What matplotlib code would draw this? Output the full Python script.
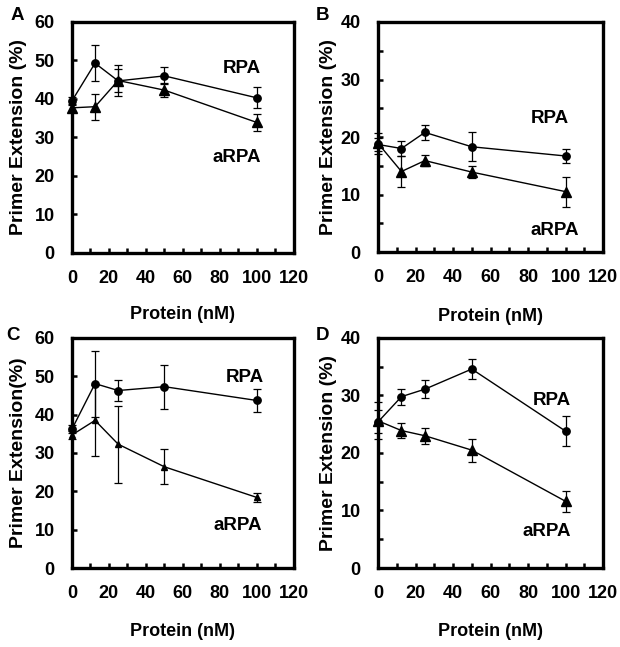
import matplotlib
matplotlib.use("Agg")
import matplotlib.pyplot as plt
from matplotlib.ticker import MultipleLocator

plt.rcParams['font.family'] = ['Liberation Sans', 'DejaVu Sans']
plt.rcParams['font.weight'] = 'bold'

protein = [0, 12.5, 25, 50, 100]

A_rpa = [39.5, 49.3, 44.7, 46.0, 40.3]
A_rpa_err = [1.0, 4.6, 4.0, 2.2, 2.7]
A_arpa = [37.7, 38.0, 44.8, 42.3, 33.9]
A_arpa_err = [1.0, 3.4, 3.0, 1.8, 2.1]

B_rpa = [18.7, 18.0, 20.8, 18.3, 16.7]
B_rpa_err = [1.2, 1.3, 1.3, 2.5, 1.2]
B_arpa = [18.9, 14.0, 15.9, 13.9, 10.5]
B_arpa_err = [1.8, 2.7, 1.0, 1.0, 2.6]

C_rpa = [36.2, 48.1, 46.3, 47.3, 43.7]
C_rpa_err = [1.0, 8.6, 2.7, 5.7, 3.0]
C_arpa = [34.7, 38.5, 32.3, 26.4, 18.4]
C_arpa_err = [1.0, 9.2, 10.0, 4.6, 1.2]

D_rpa = [25.4, 29.8, 31.1, 34.6, 23.8]
D_rpa_err = [2.0, 1.4, 1.6, 1.8, 2.6]
D_arpa = [25.6, 23.9, 23.0, 20.5, 11.6]
D_arpa_err = [3.2, 1.3, 1.4, 2.0, 1.8]

panels = [
    dict(letter='A', rect=[0.116, 0.609, 0.358, 0.357], ymax=60, ystep=10, yminor=10,
         rpa=A_rpa, rpa_err=A_rpa_err, arpa=A_arpa, arpa_err=A_arpa_err,
         ylabel='Primer Extension (%)', rpa_pos=(92, 48), arpa_pos=(89, 24.7),
         tri=6.7, letter_pos=(17, 15), lx=-0.203, xly=-0.268),
    dict(letter='B', rect=[0.6097, 0.6105, 0.363, 0.3555], ymax=40, ystep=10, yminor=5,
         rpa=B_rpa, rpa_err=B_rpa_err, arpa=B_arpa, arpa_err=B_arpa_err,
         ylabel='Primer Extension (%)', rpa_pos=(91.7, 23.3), arpa_pos=(94.4, 3.8),
         tri=6.7, letter_pos=(322, 15), lx=-0.182, xly=-0.28),
    dict(letter='C', rect=[0.116, 0.1221, 0.358, 0.3555], ymax=60, ystep=10, yminor=10,
         rpa=C_rpa, rpa_err=C_rpa_err, arpa=C_arpa, arpa_err=C_arpa_err,
         ylabel='Primer Extension(%)', rpa_pos=(93.5, 49.8), arpa_pos=(89.9, 11.2),
         tri=4.5, letter_pos=(13, 335), lx=-0.203, xly=-0.278),
    dict(letter='D', rect=[0.6097, 0.1221, 0.363, 0.3555], ymax=40, ystep=10, yminor=5,
         rpa=D_rpa, rpa_err=D_rpa_err, arpa=D_arpa, arpa_err=D_arpa_err,
         ylabel='Primer Extension (%)', rpa_pos=(92.8, 29.2), arpa_pos=(90, 6.3),
         tri=6.7, letter_pos=(322, 335), lx=-0.182, xly=-0.278),
]

W, H = 620, 647
fig = plt.figure(figsize=(W / 100, H / 100), dpi=100)

for p in panels:
    ax = fig.add_axes(p['rect'])
    ax.errorbar(protein, p['rpa'], yerr=p['rpa_err'], color='black', lw=1.0,
                marker='o', ms=5.3, elinewidth=0.9, capsize=3.2, capthick=0.9,
                clip_on=False, zorder=3)
    ax.errorbar(protein, p['arpa'], yerr=p['arpa_err'], color='black', lw=1.0,
                marker='^', ms=p['tri'], elinewidth=0.9, capsize=3.2, capthick=0.9,
                clip_on=False, zorder=3)
    ax.set_xlim(0, 120)
    ax.set_ylim(0, p['ymax'])
    ax.xaxis.set_major_locator(MultipleLocator(20))
    ax.xaxis.set_minor_locator(MultipleLocator(10))
    ax.yaxis.set_major_locator(MultipleLocator(p['ystep']))
    ax.yaxis.set_minor_locator(MultipleLocator(p['yminor']))
    ax.tick_params(which='both', direction='in', length=3.5, width=1.8,
                   top=False, right=False)
    ax.tick_params(which='major', labelsize=13, pad=12.5)
    for lab in ax.get_xticklabels() + ax.get_yticklabels():
        lab.set_fontweight('bold')
    for s in ax.spines.values():
        s.set_linewidth(2.4)
    ax.set_xlabel('Protein (nM)', fontsize=13, fontweight='bold', va='center')
    ax.xaxis.set_label_coords(0.5, p['xly'])
    ax.set_ylabel(p['ylabel'], fontsize=14, fontweight='bold')
    ax.yaxis.set_label_coords(p['lx'], 0.5)
    ax.text(p['rpa_pos'][0], p['rpa_pos'][1], 'RPA', fontsize=13.5, fontweight='bold',
            ha='center', va='center')
    ax.text(p['arpa_pos'][0], p['arpa_pos'][1], 'aRPA', fontsize=13.5, fontweight='bold',
            ha='center', va='center')
    fig.text(p['letter_pos'][0] / W, 1 - p['letter_pos'][1] / H, p['letter'],
             fontsize=13.5, fontweight='bold', ha='center', va='center')

fig.savefig('out.png', dpi=100)
